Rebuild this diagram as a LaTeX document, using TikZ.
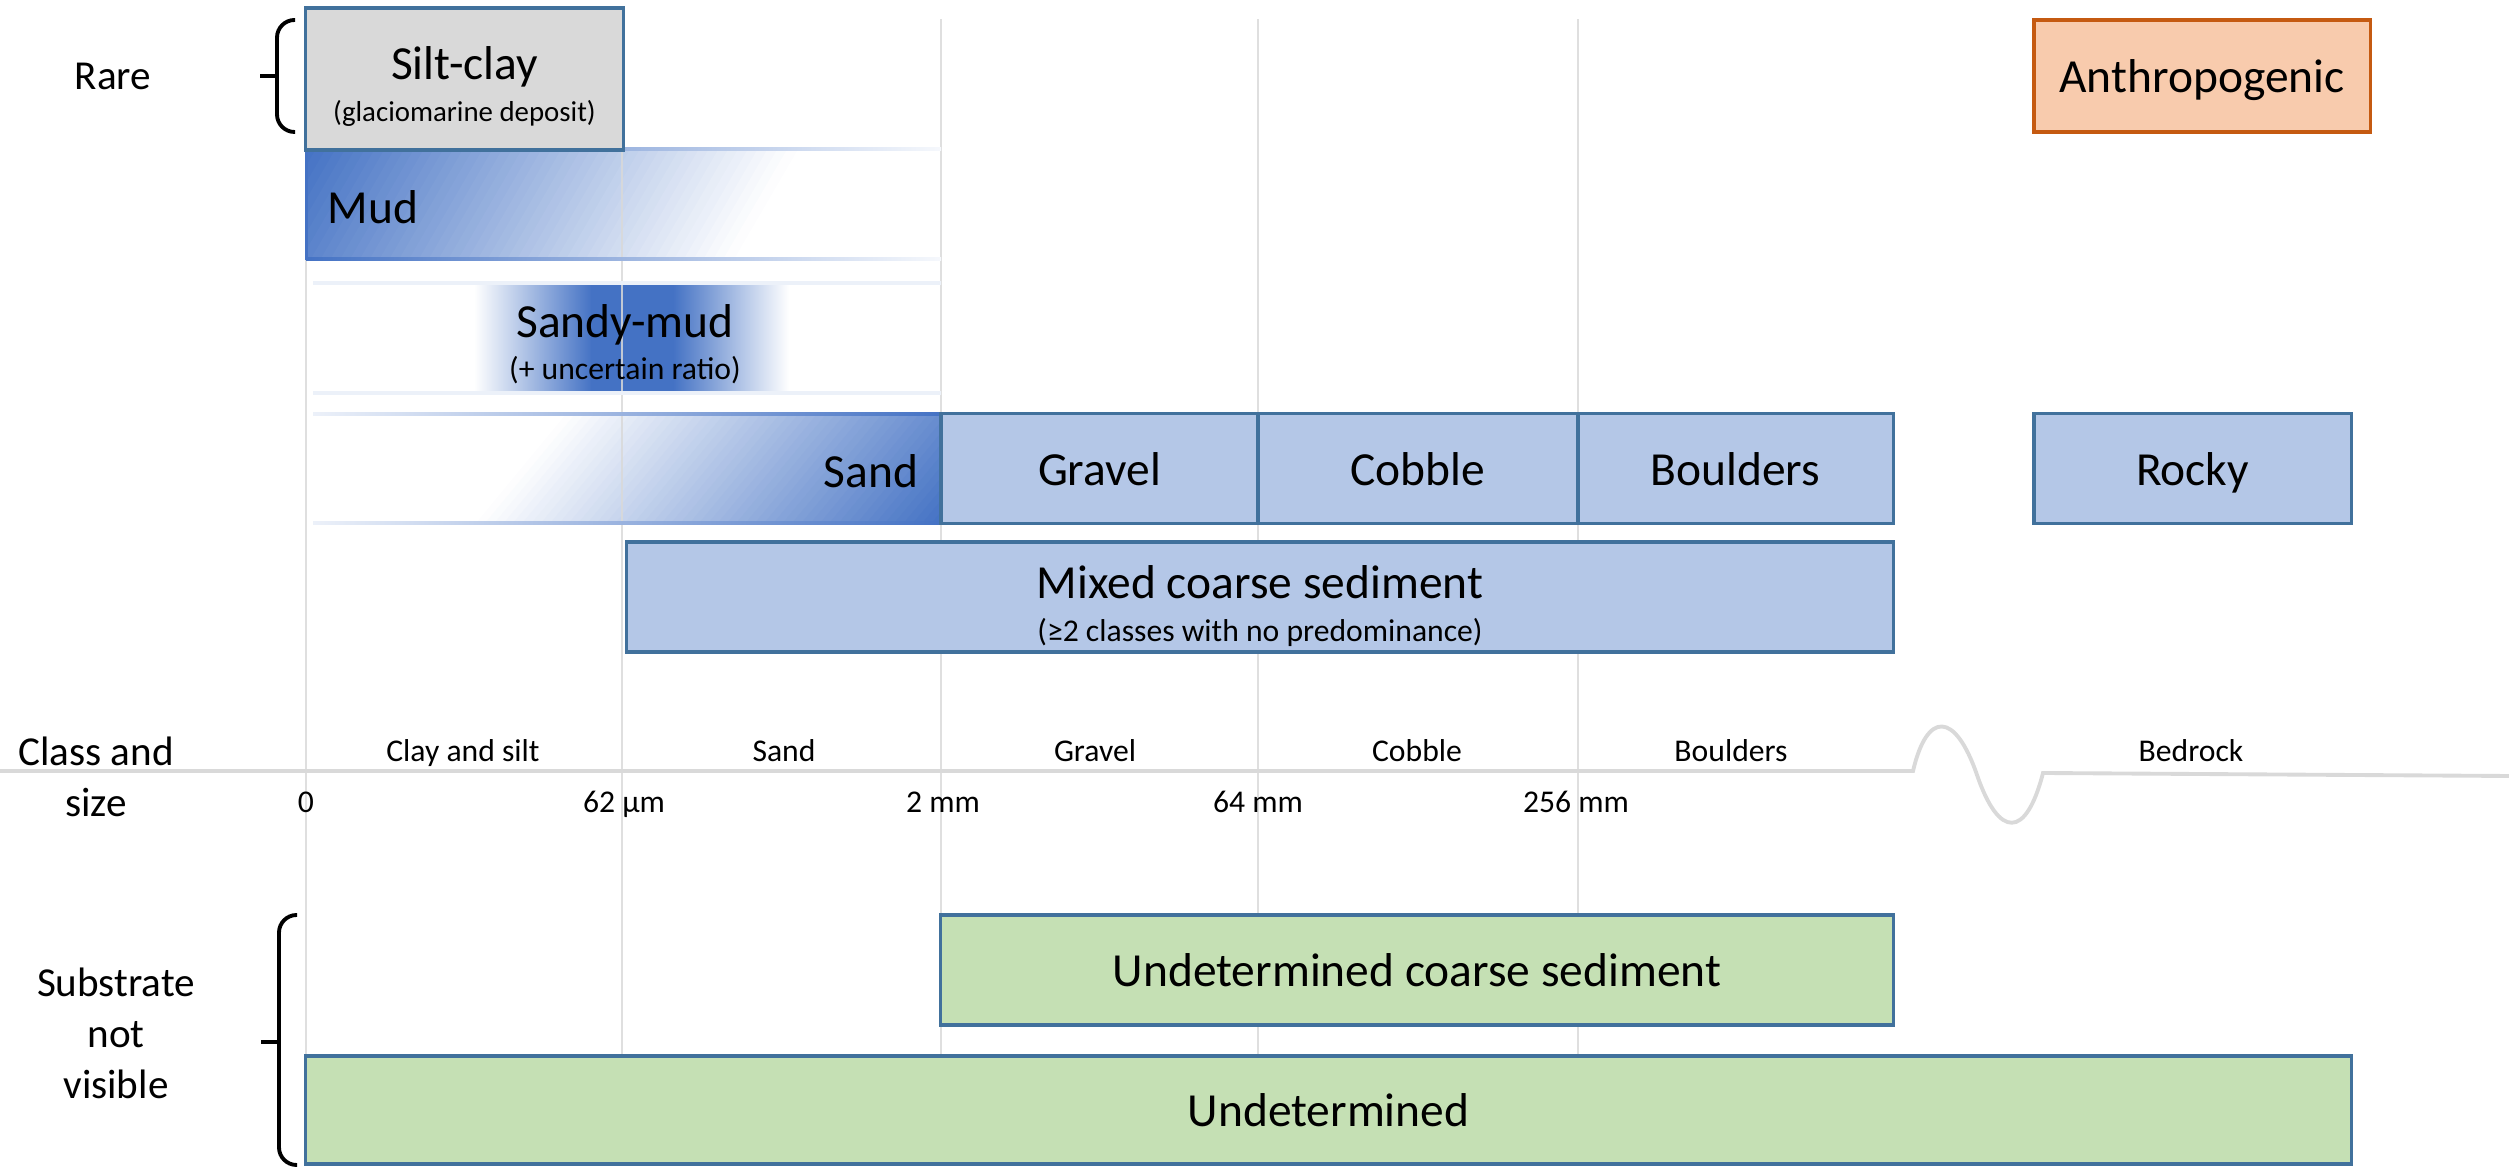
\documentclass[tikz,border=0pt]{standalone}
\usepackage{fontspec}
\setmainfont{Carlito}

\definecolor{gradblue}{HTML}{4472C4}
\definecolor{cellblue}{HTML}{B4C7E7}
\definecolor{cellline}{HTML}{41719C}
\definecolor{cellgreen}{HTML}{C5E0B4}
\definecolor{siltgray}{HTML}{D9D9D9}
\definecolor{anthfill}{HTML}{F8CBAD}
\definecolor{anthline}{HTML}{C55A11}
\definecolor{gridgray}{HTML}{D9D9D9}

\newcommand{\notetext}[2][9]{{\fontsize{#1}{10}\selectfont #2}}

\begin{document}
\begin{tikzpicture}[x=0.01cm, y=-0.01cm,
    cell/.style={draw=cellline, line width=0.9pt, inner sep=0pt, align=center,
      minimum height=1.1cm, text height=11.5pt, text depth=2pt,
      font=\fontsize{13.5}{12}\selectfont},
    twoline/.style={text height=, text depth=},
    bluecell/.style={cell, fill=cellblue},
    greencell/.style={cell, fill=cellgreen},
    bandlabel/.style={font=\fontsize{13.5}{12}\selectfont, inner sep=0pt, align=center},
    sidelabel/.style={font=\fontsize{11.7}{14.5}\selectfont, inner sep=0pt, align=center},
    axislabel/.style={font=\fontsize{9}{11}\selectfont, inner sep=0pt, anchor=base},
    gridline/.style={draw=gridgray, line width=0.8pt, opacity=0.85},
    axisline/.style={draw=gridgray, line width=1.1pt},
    bracket/.style={draw=black, line width=1.1pt}
  ]
  \useasboundingbox (0,0) rectangle (2509,1168);

  % mud band, blue in the upper left corner
  \begin{scope}
    \clip (306,149) rectangle (941,259);
    \foreach \i in {0,...,49}{
      \pgfmathsetmacro\xa{306+9.82*\i}
      \pgfmathsetmacro\xb{\xa+11}
      \pgfmathsetmacro\pct{99-2*\i}
      \fill[gradblue!\pct!white] (\xa,149) -- (\xb,149) -- (\xb-64,259) -- (\xa-64,259) -- cycle;
    }
  \end{scope}
  % sand band, blue in the lower right corner
  \begin{scope}
    \clip (306,414) rectangle (941,523);
    \foreach \i in {0,...,49}{
      \pgfmathsetmacro\xa{566+9.3*\i}
      \pgfmathsetmacro\xb{\xa+10.5}
      \pgfmathsetmacro\pct{2*\i+1}
      \fill[gradblue!\pct!white] (\xa,414) -- (\xb,414) -- (\xb-90,523) -- (\xa-90,523) -- cycle;
    }
  \end{scope}
  % sandy-mud band
  \shade[left color=white, right color=gradblue] (474,283) rectangle (592,393);
  \fill[gradblue] (591,283) rectangle (674,393);
  \shade[left color=gradblue, right color=white] (673,283) rectangle (789,393);

  % size class limits
  \foreach \gx in {306,622,941,1258,1578}
    \draw[gridline] (\gx,19) -- (\gx,1056);

  % band edges
  \shade[left color=gradblue, middle color=gradblue!75, right color=gradblue!5] (306,147.5) rectangle (941,150.5);
  \shade[left color=gradblue, middle color=gradblue!75, right color=gradblue!5] (306,257.5) rectangle (941,260.5);
  \fill[gradblue] (304.5,148) rectangle (307.5,260);
  \shade[left color=gradblue!10, middle color=gradblue, right color=gradblue!10] (313,281.5) rectangle (941,284.5);
  \shade[left color=gradblue!10, middle color=gradblue, right color=gradblue!10] (313,391.5) rectangle (941,394.5);
  \shade[left color=gradblue!10, right color=gradblue] (313,412.5) rectangle (941,415.5);
  \shade[left color=gradblue!10, right color=gradblue] (313,521.5) rectangle (941,524.5);

  % axis with the break before bedrock
  \draw[axisline] (0,771) -- (1913,771) .. controls (1927,711) and (1955,711) .. (1977,775)
    .. controls (1999,839) and (2026,839) .. (2043,773) -- (2509,776);

  % substrate classes
  \node[cell, twoline, fill=siltgray, minimum width=3.17cm, minimum height=1.42cm] (siltclay) at (464.5,79)
    {\rule{0pt}{13.5pt}Silt-clay\\\notetext[8.2]{(glaciomarine deposit)}};
  \node[cell, fill=anthfill, draw=anthline, minimum width=3.36cm, minimum height=1.12cm] (anthro) at (2202,76)
    {Anthropogenic};
  \node[bandlabel, anchor=west] (mud) at (327,207) {Mud};
  \node[bandlabel] (sandymud) at (625,344) {Sandy-mud\\\notetext{(+ uncertain ratio)}};
  \node[bandlabel, anchor=east] (sand) at (919,471) {Sand};
  \node[bluecell, minimum width=3.17cm] (gravel) at (1099.5,468.5) {Gravel};
  \node[bluecell, minimum width=3.2cm] (cobble) at (1418,468.5) {Cobble};
  \node[bluecell, minimum width=3.15cm] (boulders) at (1735.5,468.5) {Boulders};
  \node[bluecell, minimum width=3.17cm] (rocky) at (2192.5,468.5) {Rocky};
  \node[bluecell, twoline, minimum width=12.66cm] (mixed) at (1260,597)
    {\rule{0pt}{14.5pt}Mixed coarse sediment\\\notetext{(≥2 classes with no predominance)}};
  \node[greencell, minimum width=9.52cm] (undcoarse) at (1417,970) {Undetermined coarse sediment};
  \node[greencell, minimum width=20.45cm, minimum height=1.08cm] (undet) at (1328.5,1110) {Undetermined};

  % class and size axis labels
  \node[axislabel] (clayaxis) at (463,762) {Clay and silt};
  \node[axislabel] (sandaxis) at (784,762) {Sand};
  \node[axislabel] (gravelaxis) at (1095,762) {Gravel};
  \node[axislabel] (cobbleaxis) at (1417,762) {Cobble};
  \node[axislabel] (bouldersaxis) at (1731,762) {Boulders};
  \node[axislabel] (bedrockaxis) at (2191,762) {Bedrock};
  \node[axislabel] (size0) at (306,813) {0};
  \node[axislabel] (size62) at (624,813) {62 µm};
  \node[axislabel] (size2) at (943,813) {2 mm};
  \node[axislabel] (size64) at (1258,813) {64 mm};
  \node[axislabel] (size256) at (1576,813) {256 mm};

  % row labels and their braces
  \node[sidelabel] (rare) at (113,76) {Rare};
  \node[sidelabel] (classsize) at (96,777) {Class and\\size};
  \node[sidelabel] (notvisible) at (116,1033) {Substrate\\not\\visible};
  \draw[bracket, rounded corners=5] (295,20) -- (277,20) -- (277,132) -- (295,132);
  \draw[bracket] (260,76) -- (277,76);
  \draw[bracket, rounded corners=5] (297,915) -- (279,915) -- (279,1165) -- (297,1165);
  \draw[bracket] (261,1042) -- (279,1042);
\end{tikzpicture}
\end{document}
